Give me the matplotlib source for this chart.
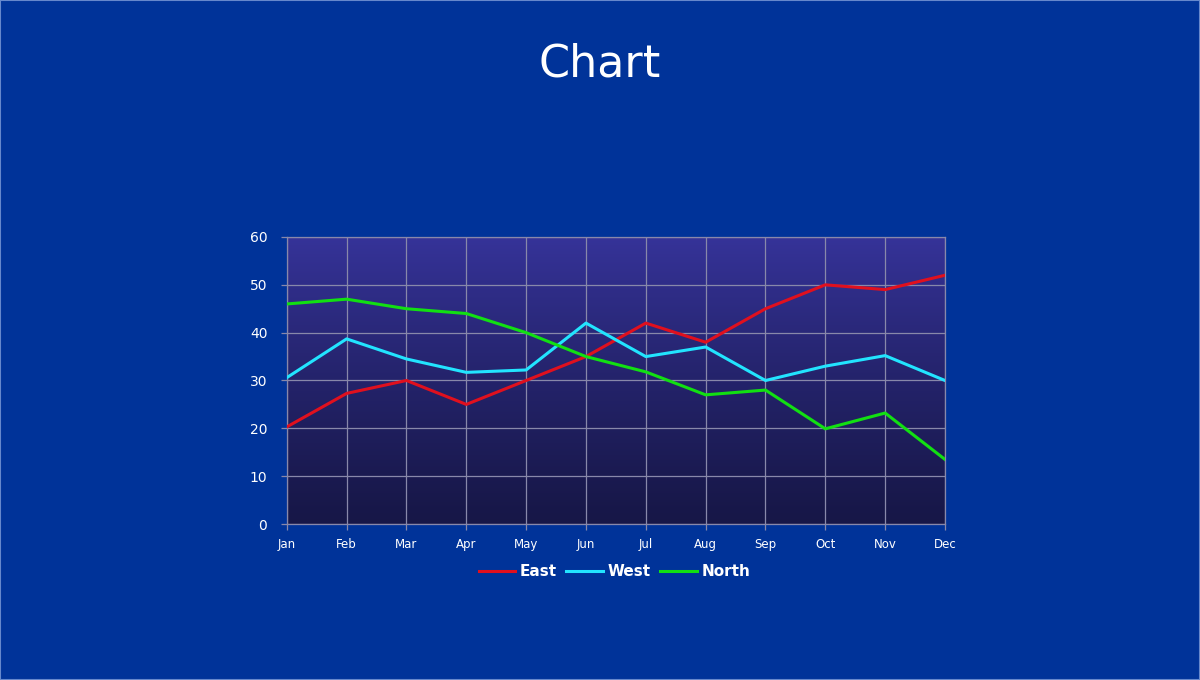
import numpy as np
import matplotlib.pyplot as plt

plt.rcParams['font.family'] = ['DejaVu Sans']

months = ['Jan', 'Feb', 'Mar', 'Apr', 'May', 'Jun', 'Jul', 'Aug', 'Sep', 'Oct', 'Nov', 'Dec']
east = [20.3, 27.3, 30, 25, 30, 35, 42, 38, 45, 50, 49, 52]
west = [30.6, 38.7, 34.5, 31.7, 32.2, 42, 35, 37, 30, 33, 35.2, 30]
north = [46, 47, 45, 44, 40, 35, 31.8, 27, 28, 19.9, 23.2, 13.5]
yticks = [0, 10, 20, 30, 40, 50, 60]

bg = '#003399'
fig = plt.figure(figsize=(12, 6.8), dpi=100, facecolor=bg)
ax = fig.add_axes([0.239, 0.2294, 0.5485, 0.4221])
ax.set_facecolor('#1a1a4d')

# vertical gradient behind the plot area
x = np.arange(len(months))
grad = np.linspace(0, 1, 256).reshape(-1, 1)
top = np.array([0.21, 0.20, 0.60])
bot = np.array([0.09, 0.09, 0.28])
img = bot + (top - bot) * grad[:, :, None] ** 1.2
ax.imshow(img, extent=[0, len(months) - 1, 0, 60], origin='lower', aspect='auto', zorder=0)

ax.plot(x, east, color='#e0101e', lw=2.2, label='East', zorder=3)
ax.plot(x, west, color='#22e4ff', lw=2.2, label='West', zorder=3)
ax.plot(x, north, color='#12e012', lw=2.2, label='North', zorder=3)

ax.set_xlim(0, len(months) - 1)
ax.set_ylim(0, 60)
ax.set_xticks(x)
ax.set_xticklabels(months, fontsize=8.5, color='white')
ax.set_yticks(yticks)
ax.set_yticklabels([str(v) for v in yticks], fontsize=10, color='white')
ax.grid(True, color='#8888aa', lw=0.9, zorder=1)
ax.set_axisbelow(False)
for s in ax.spines.values():
    s.set_color('#8888aa')
    s.set_linewidth(0.9)
ax.tick_params(colors='#8888aa', length=4, width=0.9)
ax.tick_params(axis='x', labelcolor='white', pad=6)
ax.tick_params(axis='y', labelcolor='white', pad=10)

fig.text(0.5, 0.8868, 'Chart', ha='center', va='baseline', fontsize=32, color='white')

leg = fig.legend(loc='center', bbox_to_anchor=(0.512, 0.159), ncol=3, frameon=False,
                 handlelength=2.4, handletextpad=0.3, columnspacing=0.6,
                 prop={'weight': 'bold', 'size': 11})
for t in leg.get_texts():
    t.set_color('white')

fig.patches.append(plt.Rectangle((0, 0), 1, 1, transform=fig.transFigure, fill=False,
                                 edgecolor='#6688cc', lw=1.5))

fig.savefig('out.png', dpi=100, facecolor=bg)
